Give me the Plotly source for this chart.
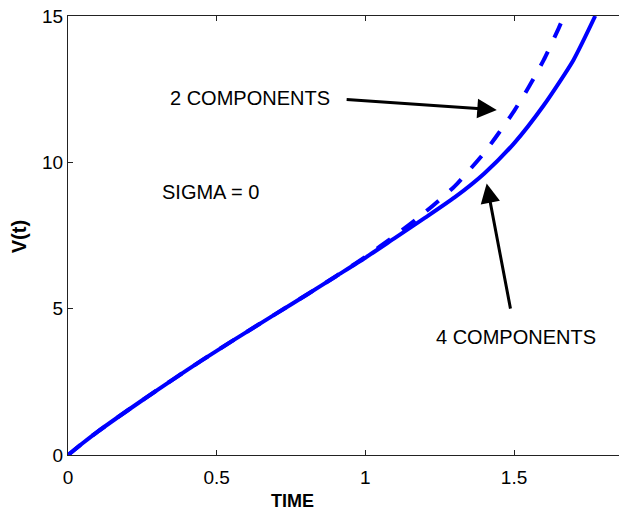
import plotly.graph_objects as go

# ---- data ----
time_4 = [0, 0.05, 0.1, 0.2, 0.3, 0.4, 0.5, 0.6, 0.7, 0.8, 0.9, 1.0, 1.1, 1.2, 1.3, 1.4, 1.5, 1.6, 1.7, 1.773]
v_4 = [0, 0.41, 0.8, 1.52, 2.22, 2.9, 3.56, 4.2, 4.83, 5.46, 6.1, 6.74, 7.42, 8.1, 8.8, 9.62, 10.65, 11.95, 13.5, 15.0]

time_2 = [0, 0.05, 0.1, 0.2, 0.3, 0.4, 0.5, 0.6, 0.7, 0.8, 0.9, 1.0, 1.1, 1.2, 1.3, 1.4, 1.45, 1.5, 1.55, 1.6, 1.65, 1.668]
v_2 = [0, 0.41, 0.8, 1.52, 2.22, 2.9, 3.56, 4.2, 4.83, 5.46, 6.1, 6.77, 7.5, 8.29, 9.18, 10.33, 11.02, 11.75, 12.58, 13.5, 14.58, 15.0]

x_ticks = [0, 0.5, 1, 1.5]
x_tick_labels = ["0", "0.5", "1", "1.5"]
y_ticks = [0, 5, 10, 15]
y_tick_labels = ["0", "5", "10", "15"]

x_title = "TIME"
y_title = "V(t)"
label_2 = "2 COMPONENTS"
label_4 = "4 COMPONENTS"
label_sigma = "SIGMA = 0"

FONT = "Liberation Sans, Arial, sans-serif"
BLUE = "#0000ff"

fig = go.Figure()
fig.add_trace(go.Scatter(x=time_2, y=v_2, mode="lines",
                         line=dict(color=BLUE, width=4, dash="16px,15px", shape="spline", smoothing=0.6),
                         showlegend=False, hoverinfo="skip"))
fig.add_trace(go.Scatter(x=time_4, y=v_4, mode="lines",
                         line=dict(color=BLUE, width=4, shape="spline", smoothing=0.6),
                         showlegend=False, hoverinfo="skip"))

axis_common = dict(showline=True, linecolor="#222222", linewidth=1,
                   ticks="inside", ticklen=5, tickcolor="#222222", tickwidth=1,
                   showgrid=False, zeroline=False, automargin=False,
                   layer="above traces", ticklabeloverflow="allow",
                   tickfont=dict(family=FONT, size=19, color="black"))

fig.update_xaxes(range=[0, 1.853], tickvals=x_ticks, ticktext=x_tick_labels,
                 mirror="ticks", ticklabelstandoff=5, **axis_common)
fig.update_yaxes(range=[0, 15], tickvals=y_ticks, ticktext=y_tick_labels,
                 mirror=False, **axis_common)

annos = [
    # text labels
    dict(x=0.612, y=12.2, xref="x", yref="y", text=label_2, showarrow=False,
         font=dict(family=FONT, size=20, color="black")),
    dict(x=1.507, y=4.03, xref="x", yref="y", text=label_4, showarrow=False,
         font=dict(family=FONT, size=20, color="black")),
    dict(x=0.478, y=8.99, xref="x", yref="y", text=label_sigma, showarrow=False,
         font=dict(family=FONT, size=20, color="black")),
    # arrows
    dict(x=1.442, y=11.79, ax=0.932, ay=12.15, xref="x", yref="y", axref="x", ayref="y",
         text="", showarrow=True, arrowhead=2, arrowsize=1.3, arrowwidth=3, arrowcolor="black"),
    dict(x=1.408, y=9.28, ax=1.489, ay=4.95, xref="x", yref="y", axref="x", ayref="y",
         text="", showarrow=True, arrowhead=2, arrowsize=1.3, arrowwidth=3, arrowcolor="black"),
    # axis titles
    dict(x=0.4074, y=-0.1045, xref="paper", yref="paper", text="<b>" + x_title + "</b>",
         xanchor="center", yanchor="middle", borderpad=0,
         showarrow=False, font=dict(family=FONT, size=18, color="black")),
    dict(x=-0.0885, y=0.4966, xref="paper", yref="paper", text="<b>" + y_title + "</b>",
         xanchor="center", yanchor="middle", borderpad=0,
         showarrow=False, textangle=-90, font=dict(family=FONT, size=20, color="black")),
]

fig.update_layout(width=619, height=511,
                  margin=dict(l=68, r=0, t=16, b=56, autoexpand=False),
                  plot_bgcolor="white", paper_bgcolor="white",
                  hovermode=False,
                  annotations=annos)

# remove the default 8px page margin so the figure fills the 619x511 window
fig.write_html("out.html", config={"displayModeBar": False},
               post_script="document.body.style.margin='0';")
